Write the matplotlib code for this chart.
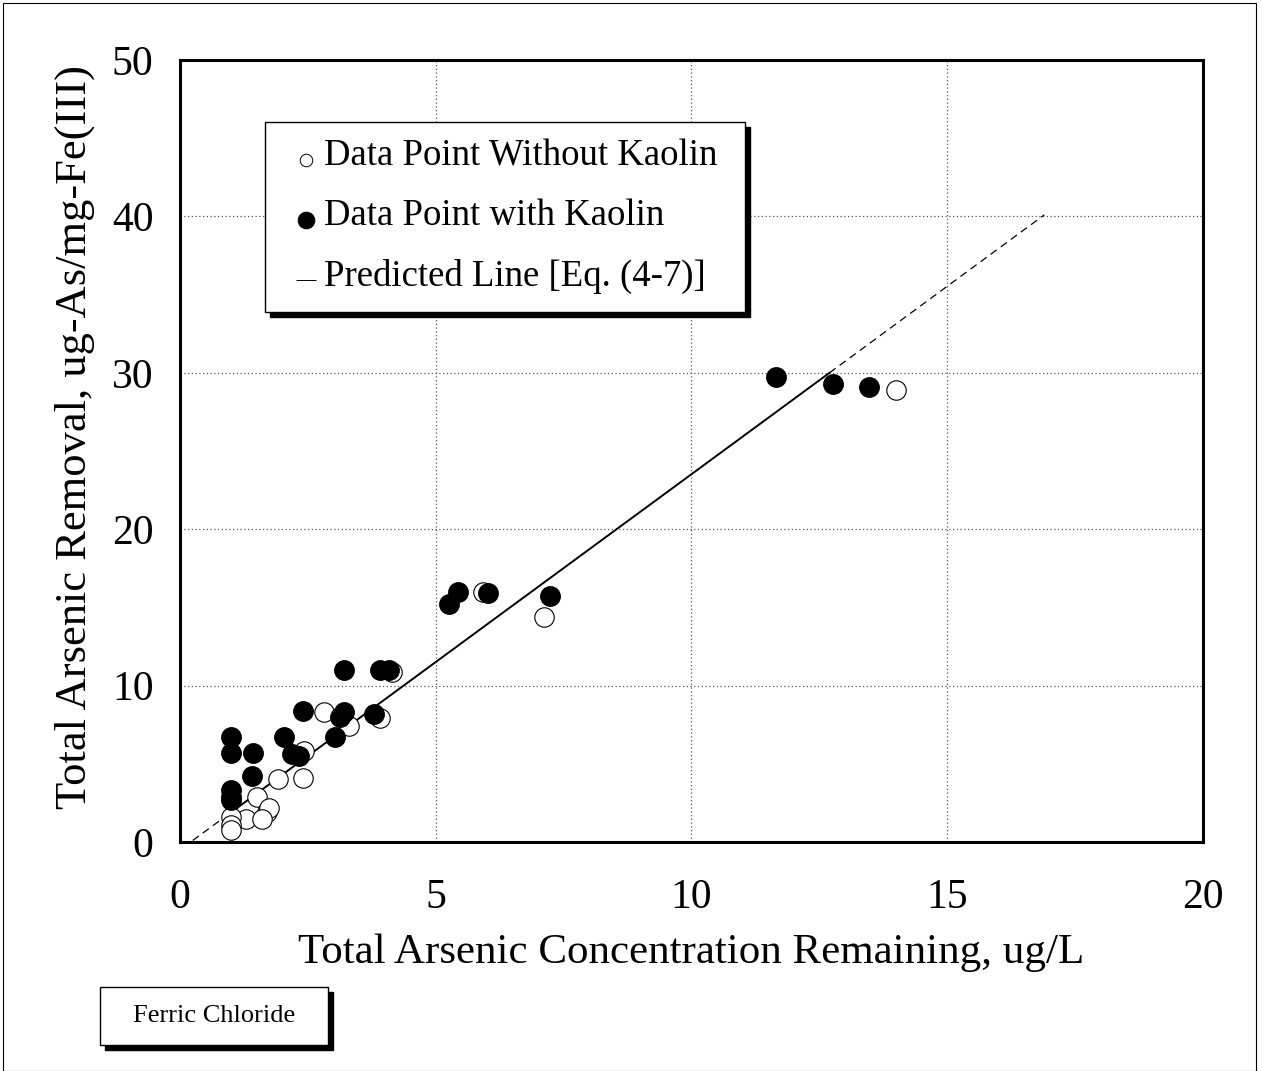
#!/usr/bin/env python3

import matplotlib.pyplot as plt
from matplotlib.patches import Rectangle
from matplotlib.lines import Line2D

plt.rcParams['font.family'] = ['Liberation Serif', 'DejaVu Serif']

# data
x_with = [1.0, 1.0, 1.43, 1.0, 1.0, 1.0, 1.4, 2.03, 2.19, 2.33, 2.4, 3.03,
          3.13, 3.2, 3.2, 3.8, 3.91, 4.09, 5.26, 5.43, 6.03, 7.23, 11.65,
          12.77, 13.47]
y_with = [6.7, 5.7, 5.7, 3.3, 2.9, 2.7, 4.2, 6.7, 5.6, 5.5, 8.4, 6.7,
          8.0, 8.3, 11.0, 8.2, 11.0, 11.0, 15.2, 16.0, 15.9, 15.7, 29.7,
          29.3, 29.1]

x_without = [14.0, 7.12, 5.92, 2.82, 3.3, 3.91, 4.15, 2.42, 2.4, 1.92, 1.5,
             1.3, 1.7, 1.74, 1.0, 1.0, 1.0, 1.6]
y_without = [28.9, 14.4, 16.0, 8.3, 7.4, 7.9, 10.9, 5.8, 4.1, 4.0, 2.9,
             1.5, 1.9, 2.2, 1.6, 1.1, 0.8, 1.5]

# predicted line [Eq. (4-7)], solid inside data range, dashed outside
x_pred = [0.25, 1.0, 12.7, 16.9]
y_pred = [0.1, 1.9, 30.0, 40.1]

fig = plt.figure(figsize=(12.62, 10.71), dpi=100)
ax = fig.add_axes([0.1426, 0.2138, 0.8106, 0.7302])

ax.plot(x_pred[:2], y_pred[:2], color='black', lw=0.9, ls=(0, (6, 4)))
ax.plot(x_pred[1:3], y_pred[1:3], color='black', lw=1.4)
ax.plot(x_pred[2:], y_pred[2:], color='black', lw=0.9, ls=(0, (6, 4)))

ax.plot(x_without, y_without, 'o', ms=14, mfc='white', mec='black', mew=0.8,
        ls='none', zorder=3)
ax.plot(x_with, y_with, 'o', ms=14, mfc='black', mec='black', ls='none',
        zorder=4)

ax.set_xlim(0, 20)
ax.set_ylim(0, 50)
ax.set_xticks([0, 5, 10, 15, 20])
ax.set_yticks([0, 10, 20, 30, 40, 50])
ax.grid(True, ls=(0, (1, 2)), color='#555555', lw=0.9)
ax.tick_params(labelsize=30, length=0)
ax.tick_params(axis='x', pad=26)
ax.tick_params(axis='y', pad=19)
for s in ax.spines.values():
    s.set_linewidth(2.2)

ax.set_xlabel('Total Arsenic Concentration Remaining, ug/L', fontsize=31,
              labelpad=12)
ax.set_ylabel('Total Arsenic Removal, ug-As/mg-Fe(III)', fontsize=32)
ax.yaxis.set_label_coords(-0.083, 0.518)

# legend box with drop shadow
lx, ly, lw_, lh = 265 / 1262, 1 - 312 / 1071, 480 / 1262, 190 / 1071
fig.patches.append(Rectangle((lx + 0.004, ly - 0.005), lw_, lh,
                             transform=fig.transFigure, color='black',
                             zorder=5))
fig.patches.append(Rectangle((lx, ly), lw_, lh, transform=fig.transFigure,
                             facecolor='white', edgecolor='black', lw=1,
                             zorder=6))
rows = [('o', 'white', 'Data Point Without Kaolin', 1 - 156 / 1071, 9),
        ('o', 'black', 'Data Point with Kaolin', 1 - 216 / 1071, 12),
        ('_', 'black', 'Predicted Line [Eq. (4-7)]', 1 - 276 / 1071, 14)]
for m, fc, txt, yy, ms in rows:
    fig.add_artist(Line2D([306 / 1262], [yy - 0.004], marker=m, ms=ms,
                          mfc=fc, mec='black', mew=0.7, ls='none',
                          transform=fig.transFigure, zorder=7))
    fig.text(324 / 1262, yy, txt, fontsize=26.5, va='center', ha='left',
             zorder=7)

# "Ferric Chloride" label box
bx, by, bw, bh = 100 / 1262, 1 - 1045 / 1071, 228 / 1262, 58 / 1071
fig.patches.append(Rectangle((bx + 0.004, by - 0.005), bw, bh,
                             transform=fig.transFigure, color='black'))
fig.patches.append(Rectangle((bx, by), bw, bh, transform=fig.transFigure,
                             facecolor='white', edgecolor='black', lw=1))
fig.text(bx + bw / 2, by + bh / 2, 'Ferric Chloride', fontsize=19,
         ha='center', va='center')

# page border
fig.patches.append(Rectangle((0.002, 0.0), 0.993, 0.997,
                             transform=fig.transFigure, fill=False,
                             edgecolor='black', lw=0.8))

fig.savefig('out.png', dpi=100)
